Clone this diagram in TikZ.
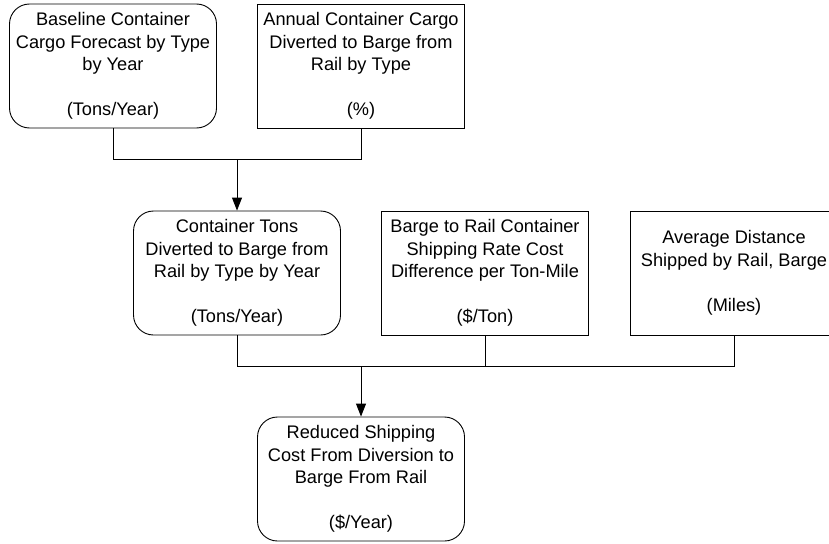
\documentclass[tikz,border=0pt]{standalone}
\usepackage{fontspec}
\setmainfont{Liberation Sans}
\usetikzlibrary{arrows.meta}
\begin{document}
\begin{tikzpicture}[x=1pt,y=-1pt,
  every node/.style={font=\fontsize{18.2}{22.5}\selectfont, align=center, inner sep=0pt,
     minimum width=207pt, minimum height=124pt, draw, line width=0.9pt},
  roundbox/.style={rounded corners=20pt},
  sqbox/.style={},
  conn/.style={line width=0.9pt},
  arr/.style={line width=0.9pt, -{Triangle[length=13pt,width=10pt]}}]
\useasboundingbox (0,0) rectangle (829,543);
\node[roundbox] (b1) at (113,66) {Baseline Container\\Cargo Forecast by Type\\by Year\\[22.5pt](Tons/Year)};
\node[sqbox] (b2) at (361,66) {Annual Container Cargo\\Diverted to Barge from\\Rail by Type\\[22.5pt](\%)};
\node[roundbox] (b3) at (237,273) {Container Tons\\Diverted to Barge from\\Rail by Type by Year\\[22.5pt](Tons/Year)};
\node[sqbox] (b4) at (485,273) {Barge to Rail Container\\Shipping Rate Cost\\Difference per Ton-Mile\\[22.5pt](\$/Ton)};
\node[sqbox] (b5) at (734,273) {Average Distance\\Shipped by Rail, Barge\\[22.5pt](Miles)};
\node[roundbox] (b6) at (361,479) {Reduced Shipping\\Cost From Diversion to\\Barge From Rail\\[22.5pt](\$/Year)};
\coordinate (j1) at (237,159);
\coordinate (j2) at (361,366);
\draw[conn] (b1.south) |- (j1);
\draw[conn] (b2.south) |- (j1);
\draw[arr] (j1) -- (b3.north);
\draw[conn] (b3.south) |- (j2);
\draw[conn] (b4.south) |- (j2);
\draw[conn] (b5.south) |- (j2);
\draw[arr] (j2) -- (b6.north);
\end{tikzpicture}
\end{document}
